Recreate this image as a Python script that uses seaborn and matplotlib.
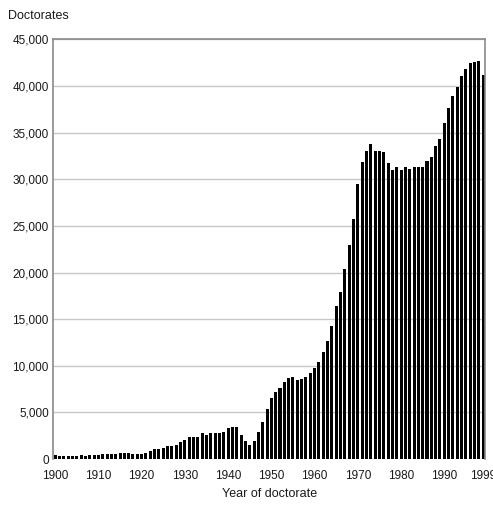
import pandas as pd
import matplotlib
matplotlib.use('Agg')
import matplotlib.pyplot as plt
import seaborn as sns
from matplotlib.ticker import FuncFormatter


# Data
years = list(range(1900, 2000))

doctorates = [
    382, 365, 293, 337, 334, 369, 383, 349, 391, 450,              # 1900s
    443, 497, 500, 538, 559, 611, 667, 628, 556, 522,              # 1910s
    562, 662, 836, 1060, 1070, 1150, 1430, 1450, 1550, 1860,       # 1920s
    2040, 2330, 2330, 2400, 2760, 2580, 2760, 2760, 2780, 2930,    # 1930s
    3300, 3470, 3400, 2550, 1950, 1500, 1950, 2920, 3940, 5340,    # 1940s
    6520, 7230, 7620, 8300, 8660, 8840, 8500, 8550, 8840, 9200,    # 1950s
    9740, 10420, 11440, 12650, 14250, 16360, 17900, 20370, 22910, 25740,  # 1960s
    29500, 31870, 33000, 33800, 33080, 33000, 32950, 31750, 30960, 31290,  # 1970s
    31000, 31360, 31100, 31290, 31300, 31300, 32000, 32360, 33540, 34330,  # 1980s
    36050, 37660, 38910, 39920, 41060, 41780, 42500, 42600, 42670, 41130,  # 1990s
]

tick_years  = [1900, 1910, 1920, 1930, 1940, 1950, 1960, 1970, 1980, 1990, 1999]
y_ticks     = list(range(0, 45001, 5000))

df = pd.DataFrame({'Year': years, 'Doctorates': doctorates})


sns.set_style('white')
plt.rcParams['font.family'] = ['Liberation Sans', 'DejaVu Sans']

fig = plt.figure(figsize=(4.93, 5.05), dpi=100)
ax  = fig.add_axes([0.1075, 0.091, 0.877, 0.831])

sns.barplot(data=df, x='Year', y='Doctorates', color='black',
            width=0.7, linewidth=0, saturation=1, ax=ax, zorder=2)

ax.set_ylim(0, 45000)
ax.set_xlim(-0.5, len(years) - 0.5)
ax.set_yticks(y_ticks)
ax.yaxis.set_major_formatter(FuncFormatter(lambda v, p: f'{int(v):,}'))

ax.set_xticks([years.index(y) for y in tick_years])
ax.set_xticklabels([str(y) for y in tick_years])

ax.grid(axis='y', color='#c8c8c8', linewidth=1, zorder=0)
ax.set_axisbelow(True)
ax.tick_params(axis='y', length=0, labelsize=8.5, colors='#1a1a1a', pad=3)
ax.tick_params(axis='x', length=0, labelsize=8.5, colors='#1a1a1a', pad=8)

for side in ['left', 'top', 'right']:
    ax.spines[side].set_color('#8a8a8a')
    ax.spines[side].set_linewidth(1.2)
ax.spines['bottom'].set_visible(False)

ax.set_xlabel('Year of doctorate', size=9, color='#1a1a1a', labelpad=4)
ax.set_ylabel('')
fig.text(8 / 493, 1 - 16 / 505, 'Doctorates', size=9, color='#1a1a1a', va='center')

fig.savefig('out.png', dpi=100)
